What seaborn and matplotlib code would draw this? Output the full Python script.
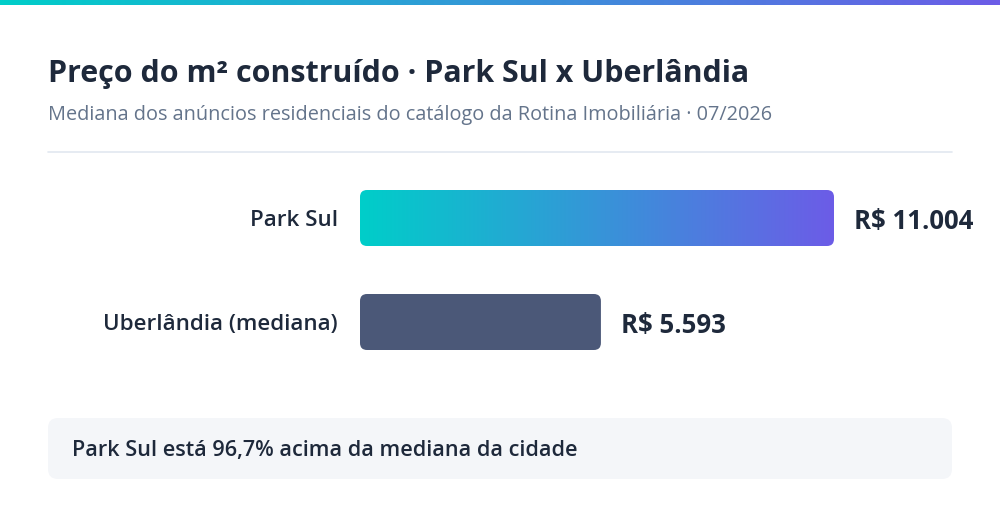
import numpy as np
import pandas as pd
import matplotlib
matplotlib.use("Agg")
import matplotlib.pyplot as plt
import seaborn as sns
from matplotlib import font_manager as fm
from matplotlib.patches import FancyBboxPatch
from matplotlib.colors import LinearSegmentedColormap
from matplotlib.transforms import IdentityTransform
from matplotlib.lines import Line2D

# ---- data ----
categories = ["Park Sul", "Uberlândia (mediana)"]
values = [11004, 5593]
title = "Preço do m² construído · Park Sul x Uberlândia"
subtitle = "Mediana dos anúncios residenciais do catálogo da Rotina Imobiliária · 07/2026"
note = "Park Sul está 96,7% acima da mediana da cidade"

# ---- font selection (family that really has a bold face) ----
weights = {}
for f in fm.fontManager.ttflist:
    w = f.weight if isinstance(f.weight, int) else fm.weight_dict.get(f.weight, 400)
    weights.setdefault(f.name, set()).add(w)
FAMILY = "DejaVu Sans"
for cand in ["Noto Sans", "Open Sans", "Lato", "Roboto", "Inter", "Liberation Sans"]:
    if cand in weights and max(weights[cand]) >= 700 and min(weights[cand]) <= 400:
        FAMILY = cand
        break
avail = weights.get(FAMILY, {400, 700})
MED = 500 if 500 in avail else (600 if 600 in avail else 400)

# ---- style ----
sns.set_theme(style="white")
plt.rcParams["font.family"] = [FAMILY, "DejaVu Sans"]

W, H = 1000, 520
DARK = "#1e293b"
GRAD = LinearSegmentedColormap.from_list("g", ["#00cec9", "#6c5ce7"])

fig = plt.figure(figsize=(W / 100, H / 100), dpi=100)
fig.patch.set_facecolor("white")

def fy(px_from_top):
    return 1 - px_from_top / H

# top gradient strip
strip = fig.add_axes([0, fy(5), 1, 5 / H])
strip.imshow(np.linspace(0, 1, 256)[None, :], aspect="auto", cmap=GRAD)
strip.axis("off")

renderer = fig.canvas.get_renderer()

def fit(t, target_px):
    w = t.get_window_extent(renderer).width
    t.set_fontsize(t.get_fontsize() * target_px / w)

t1 = fig.text(48 / W, fy(82), title, fontsize=20, fontweight=700,
              color=DARK, ha="left", va="baseline")
fit(t1, 701)
t2 = fig.text(48 / W, fy(120), subtitle, fontsize=12.5, color="#64748b",
              ha="left", va="baseline")
fit(t2, 725)

fig.add_artist(Line2D([48 / W, 952 / W], [fy(152), fy(152)], color="#e2e8f0",
                      lw=1.2, transform=fig.transFigure))

# ---- bars ----
ax = fig.add_axes([360 / W, fy(374), 592 / W, 208 / H])
df = pd.DataFrame({"cat": categories, "val": values})
sns.barplot(data=df, x="val", y="cat", orient="h", ax=ax, width=56 / 104,
            color="#4b5878", saturation=1)
xmax = values[0] * 592 / 474
ax.set_xlim(0, xmax)
ax.set_ylim(1.5, -0.5)
for s in ax.spines.values():
    s.set_visible(False)
ax.set_xticks([])
ax.set_xlabel("")
ax.set_ylabel("")
ax.tick_params(axis="y", length=0, pad=22 * 0.72)
for lab in ax.get_yticklabels():
    lab.set_fontsize(14.5)
    lab.set_color("#1e293b")
    lab.set_fontweight(MED)

# bar value labels
labels = [f"R$ {v:,}".replace(",", ".") for v in values]
texts = ax.bar_label(ax.containers[0], labels=labels, padding=20 * 0.72,
                     fontsize=15.5, fontweight=700, color=DARK)
fit(texts[0], 119)
for t in texts:
    t.set_fontsize(texts[0].get_fontsize())
    t.set_va("center_baseline")

# rounded bars
for i, p in enumerate(ax.patches):
    x0, y0 = ax.transData.transform((p.get_x(), p.get_y() + p.get_height()))
    x1, y1 = ax.transData.transform((p.get_x() + p.get_width(), p.get_y()))
    rb = FancyBboxPatch((x0, y0), x1 - x0, y1 - y0,
                        boxstyle="round,pad=0,rounding_size=7",
                        transform=IdentityTransform(),
                        facecolor=p.get_facecolor(), edgecolor="none")
    p.set_visible(False)
    if i == 0:
        im = ax.imshow(np.linspace(0, 1, 256)[None, :], aspect="auto", cmap=GRAD,
                       extent=[p.get_x(), p.get_x() + p.get_width(),
                               p.get_y() + p.get_height(), p.get_y()],
                       zorder=3)
        im.set_clip_path(rb)
    else:
        fig.add_artist(rb)
ax.set_xlim(0, xmax)
ax.set_ylim(1.5, -0.5)

# fit tick label sizes
ylabs = ax.get_yticklabels()
w = ylabs[1].get_window_extent(renderer).width
s = ylabs[1].get_fontsize() * 234 / w
for lab in ylabs:
    lab.set_fontsize(s)

# ---- note box ----
box = FancyBboxPatch((48, H - 479), 904, 61, boxstyle="round,pad=0,rounding_size=10",
                     transform=IdentityTransform(), facecolor="#f4f6f9",
                     edgecolor="none", zorder=0)
fig.add_artist(box)
t3 = fig.text(72 / W, fy(456), note, fontsize=13.5, color=DARK,
              fontweight=MED, ha="left", va="baseline")
fit(t3, 505)

fig.savefig("out.png", dpi=100)
